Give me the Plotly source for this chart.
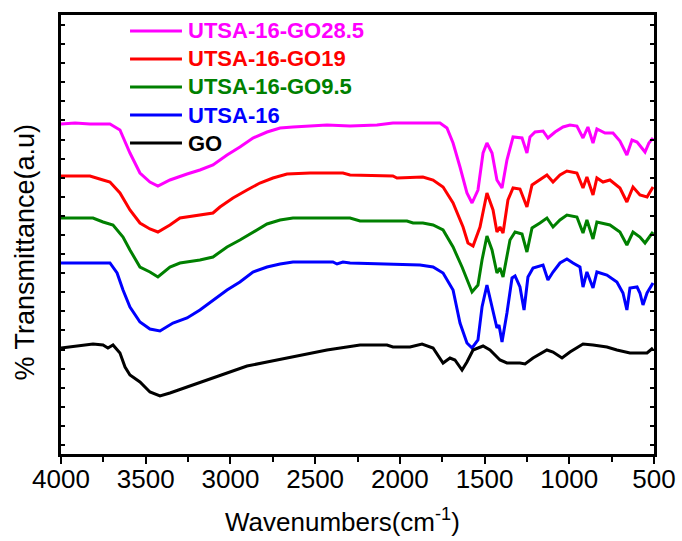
import plotly.graph_objects as go

# FTIR spectra (stacked, arbitrary transmittance units)
go285_wn = [4000, 3917, 3829, 3711, 3652, 3593, 3534, 3475, 3428, 3357, 3256, 3180, 3103, 3020, 2944,
            2867, 2784, 2707, 2631, 2430, 2294, 2135, 2041, 1881, 1763, 1722, 1686, 1645, 1604, 1574,
            1539, 1509, 1486, 1456, 1427, 1397, 1368, 1332, 1279, 1250, 1232, 1202, 1155, 1126, 1084,
            1037, 996, 955, 919, 890, 860, 837, 789, 742, 701, 660, 630, 600, 577, 553, 530, 506]
go285_t = [330, 331, 330, 330, 324, 301, 281, 272, 268, 274, 280, 284, 289, 299, 307,
           316, 322, 326, 327, 329, 328, 329, 331, 331, 331, 326, 311, 287, 261, 251,
           264, 301, 311, 301, 274, 266, 294, 317, 316, 301, 317, 322, 323, 316, 322,
           327, 329, 328, 316, 327, 311, 325, 321, 321, 313, 299, 314, 312, 307, 302, 311, 316]

go19_wn = [4000, 3917, 3829, 3752, 3711, 3652, 3593, 3534, 3475, 3428, 3357, 3298, 3180, 3103, 3062,
           2985, 2902, 2826, 2749, 2666, 2530, 2336, 2294, 2041, 2017, 1864, 1804, 1745, 1686, 1627,
           1598, 1568, 1527, 1486, 1450, 1427, 1409, 1391, 1362, 1332, 1291, 1250, 1220, 1173, 1132,
           1096, 1055, 1014, 955, 919, 896, 860, 837, 801, 760, 701, 660, 624, 583, 541, 506]
go19_t = [278, 278, 278, 274, 272, 261, 244, 231, 225, 222, 229, 236, 239, 241, 247,
          256, 264, 271, 276, 280, 281, 281, 279, 278, 276, 277, 274, 267, 251, 227,
          211, 208, 227, 261, 244, 222, 227, 221, 254, 266, 265, 247, 269, 274, 279,
          272, 279, 283, 281, 266, 277, 259, 276, 272, 274, 266, 252, 267, 259, 257, 267]

go95_wn = [4000, 3811, 3752, 3693, 3634, 3593, 3534, 3475, 3428, 3357, 3298, 3180, 3103, 3020, 2944,
           2867, 2784, 2707, 2631, 2294, 2235, 1958, 1922, 1864, 1804, 1745, 1686, 1633, 1598, 1574,
           1539, 1515, 1486, 1456, 1427, 1409, 1391, 1350, 1320, 1279, 1250, 1220, 1173, 1132, 1096,
           1055, 1014, 955, 919, 896, 860, 837, 760, 701, 660, 624, 583, 553, 506]
go95_t = [236, 236, 232, 229, 217, 204, 187, 182, 177, 187, 191, 194, 197, 207, 214,
          222, 230, 234, 236, 236, 233, 233, 231, 231, 229, 224, 207, 187, 172, 162,
          169, 194, 218, 204, 181, 186, 177, 214, 222, 220, 202, 226, 231, 236, 227,
          234, 239, 237, 221, 234, 215, 232, 229, 222, 209, 222, 217, 211, 222]

utsa_wn = [4000, 3711, 3669, 3634, 3593, 3534, 3475, 3416, 3339, 3256, 3180, 3103, 3020, 2944, 2867,
           2784, 2707, 2631, 2395, 2371, 2336, 2294, 1881, 1804, 1745, 1686, 1645, 1604, 1574, 1539,
           1515, 1486, 1456, 1427, 1415, 1397, 1368, 1338, 1320, 1291, 1267, 1244, 1214, 1155, 1126,
           1096, 1055, 1014, 978, 937, 919, 896, 860, 837, 778, 719, 683, 660, 642, 600, 583, 565,
           541, 506]
utsa_t = [191, 191, 181, 164, 147, 132, 125, 123, 131, 136, 144, 154, 164, 172, 182,
          187, 190, 192, 192, 190, 192, 191, 189, 187, 181, 164, 131, 111, 106, 114,
          147, 169, 147, 126, 129, 112, 141, 176, 178, 167, 144, 177, 186, 189, 174,
          182, 191, 195, 191, 187, 167, 182, 166, 182, 179, 172, 161, 144, 166, 167, 161, 149,
          161, 171]

go_wn = [4000, 3888, 3811, 3752, 3723, 3693, 3652, 3622, 3593, 3534, 3475, 3416, 3357, 3256, 3138,
         3020, 2902, 2784, 2631, 2430, 2235, 2076, 2041, 1940, 1869, 1804, 1745, 1704, 1675, 1633,
         1604, 1568, 1509, 1468, 1409, 1368, 1291, 1261, 1214, 1132, 1096, 1043, 996, 919, 860,
         778, 719, 642, 541, 506]
go_t = [106, 108, 110, 109, 106, 109, 101, 87, 79, 72, 62, 58, 61, 67, 74,
        81, 88, 92, 97, 104, 109, 109, 107, 107, 110, 106, 91, 96, 94, 84,
        92, 104, 108, 104, 94, 91, 91, 90, 96, 104, 102, 96, 102, 110, 109,
        107, 104, 101, 101, 106]

names = ["UTSA-16-GO28.5", "UTSA-16-GO19", "UTSA-16-GO9.5", "UTSA-16", "GO"]
colors = ["#FF00FF", "#FF0000", "#008000", "#0000FF", "#000000"]
spectra = [(go285_wn, go285_t), (go19_wn, go19_t), (go95_wn, go95_t),
           (utsa_wn, utsa_t), (go_wn, go_t)]

x_ticks = [4000, 3500, 3000, 2500, 2000, 1500, 1000, 500]
x_range = [4000, 500]
y_range = [0, 439]

FONT = "Liberation Sans, Arial, sans-serif"

fig = go.Figure()
for name, color, (wn, t) in zip(names, colors, spectra):
    fig.add_trace(go.Scatter(x=wn, y=t, mode="lines", name=name,
                             line=dict(color=color, width=3),
                             showlegend=False))

# empty trace that carries the overlay axis used for the long major ticks
fig.add_trace(go.Scatter(x=[], y=[], xaxis="x2", yaxis="y", showlegend=False,
                         hoverinfo="skip"))

# Legend: short line sample plus bold coloured label per series
row0, row_step = 0.9636, 0.0638
for i, (name, color) in enumerate(zip(names, colors)):
    yy = row0 - i * row_step
    fig.add_shape(type="line", xref="paper", yref="paper",
                  x0=0.1164, x1=0.204, y0=yy, y1=yy,
                  line=dict(color=color, width=3))
    fig.add_annotation(xref="paper", yref="paper", x=0.21, y=yy,
                       xanchor="left", yanchor="middle", showarrow=False,
                       text=f"<b>{name}</b>",
                       font=dict(family=FONT, size=22, color=color))

# axis titles
fig.add_annotation(xref="paper", yref="paper", x=0.475, y=-0.152,
                   xanchor="center", yanchor="middle", showarrow=False,
                   text="Wavenumbers(cm<sup>-1</sup>)",
                   font=dict(family=FONT, size=26, color="black"))
fig.add_annotation(xref="paper", yref="paper", x=-0.06, y=0.46,
                   xanchor="center", yanchor="middle", showarrow=False,
                   textangle=-90, text="% Transmittance(a.u)",
                   font=dict(family=FONT, size=27, color="black"))

fig.update_layout(
    width=682, height=541,
    margin=dict(l=61, r=28, t=15, b=87),
    paper_bgcolor="white", plot_bgcolor="white",
    font=dict(family=FONT, color="black"),
    xaxis=dict(
        range=x_range, tickvals=x_ticks, ticktext=[str(v) for v in x_ticks],
        ticks="",
        minor=dict(dtick=250, tick0=0, ticks="outside", ticklen=5, tickwidth=2,
                   tickcolor="black"),
        showline=True, linewidth=3, linecolor="black", mirror=True,
        showgrid=False, zeroline=False,
        tickfont=dict(family=FONT, size=26, color="black"),
        automargin=False,
    ),
    xaxis2=dict(
        overlaying="x", anchor="y", side="bottom", range=x_range,
        tickvals=x_ticks, showticklabels=False,
        ticks="outside", ticklen=9, tickwidth=2, tickcolor="black",
        showline=False, showgrid=False, zeroline=False, automargin=False,
    ),
    yaxis=dict(
        range=y_range, tick0=9, dtick=19.09, showticklabels=False,
        ticks="inside", ticklen=4, tickwidth=2, tickcolor="black",
        showline=True, linewidth=3, linecolor="black", mirror="ticks",
        showgrid=False, zeroline=False, automargin=False,
    ),
)

fig.write_html("out.html")
